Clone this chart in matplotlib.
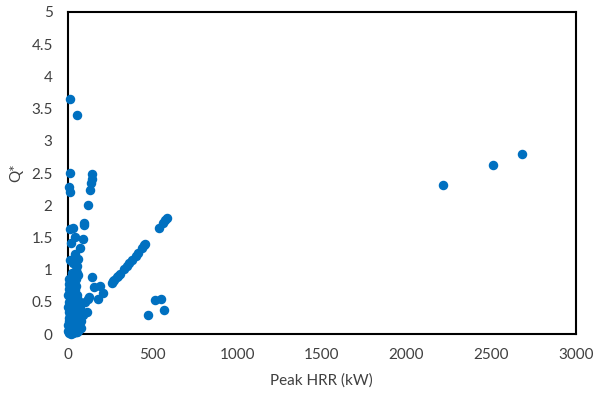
import matplotlib
matplotlib.use("Agg")
import matplotlib.pyplot as plt

# peak heat release rate (kW) and dimensionless Q*
peak_hrr = [
    2215, 2510, 2680,
    12, 53, 12, 8, 10,
    142, 140, 136, 132, 118, 95,
    584, 575, 560, 540, 456, 448, 440, 412, 400, 377, 360, 347, 330, 308, 298, 288, 275, 265, 258,
    209, 189, 179, 156, 140, 120, 110, 100, 125,
    515, 550, 570, 471,
    12, 31, 18, 41, 96, 87, 71, 41, 61, 12, 51, 61, 22, 41, 61, 2,
    5, 8, 15, 20, 25, 30, 35, 45, 50, 55, 60, 70, 80, 90,
    3, 6, 10, 14, 18, 24, 28, 33, 38, 44, 52, 58, 66, 75,
    4, 7, 11, 16, 21, 27, 34, 40, 47, 56, 64, 72,
    2, 5, 9, 13, 19, 26, 32, 39, 48, 57,
    3, 8, 14, 22, 29, 36, 43, 50, 62, 80,
    6, 12, 18, 25, 35, 45, 55, 68,
    4, 10, 17, 23, 31, 42, 53,
]
q_star = [
    2.31, 2.62, 2.80,
    3.65, 3.40, 2.50, 2.28, 2.20,
    2.48, 2.40, 2.35, 2.23, 2.00, 1.72,
    1.80, 1.77, 1.72, 1.65, 1.40, 1.38, 1.34, 1.26, 1.22, 1.15, 1.10, 1.06, 1.01, 0.94, 0.91, 0.88, 0.84, 0.82, 0.80,
    0.64, 0.74, 0.55, 0.73, 0.89, 0.55, 0.35, 0.50, 0.58,
    0.53, 0.55, 0.37, 0.30,
    1.63, 1.64, 1.41, 1.51, 1.69, 1.47, 1.33, 1.25, 1.17, 1.15, 1.05, 0.92, 0.81, 0.68, 0.53, 0.42,
    0.85, 0.78, 0.70, 0.62, 0.95, 1.10, 0.88, 1.00, 0.75, 0.60, 0.45, 0.40, 0.35, 0.30,
    0.60, 0.50, 0.45, 0.38, 0.55, 0.32, 0.48, 0.28, 0.42, 0.25, 0.36, 0.22, 0.30, 0.20,
    0.35, 0.25, 0.30, 0.20, 0.28, 0.18, 0.24, 0.15, 0.22, 0.12, 0.18, 0.10,
    0.15, 0.12, 0.20, 0.08, 0.16, 0.10, 0.14, 0.07, 0.12, 0.05,
    0.05, 0.03, 0.08, 0.02, 0.06, 0.04, 0.09, 0.03, 0.07, 0.10,
    0.70, 0.65, 0.58, 0.90, 0.78, 0.85, 0.95, 0.50,
    0.02, 0.04, 0.01, 0.05, 0.02, 0.06, 0.03,
]

plt.rcParams["font.family"] = ["Lato", "DejaVu Sans"]

fig = plt.figure(figsize=(5.96, 3.95), dpi=100)
ax = fig.add_axes([0.114, 0.154, 0.852, 0.816])

ax.scatter(peak_hrr, q_star, s=34, color="#0070C0", zorder=3, clip_on=False)

ax.set_xlim(0, 3000)
ax.set_ylim(0, 5)
ax.set_xticks(range(0, 3001, 500))
ax.set_yticks([0, 0.5, 1, 1.5, 2, 2.5, 3, 3.5, 4, 4.5, 5])
ax.set_yticklabels(["0", "0.5", "1", "1.5", "2", "2.5", "3", "3.5", "4", "4.5", "5"])
ax.tick_params(length=0, labelsize=11, colors="#404040")
ax.tick_params(axis="x", pad=10)
ax.tick_params(axis="y", pad=11)
for sp in ax.spines.values():
    sp.set_linewidth(1.5)
    sp.set_color("black")

ax.set_xlabel("Peak HRR (kW)", fontsize=11, color="#404040", labelpad=8)
ax.set_ylabel("Q*", fontsize=11, color="#404040", labelpad=6)

fig.savefig("out.png", dpi=100)
